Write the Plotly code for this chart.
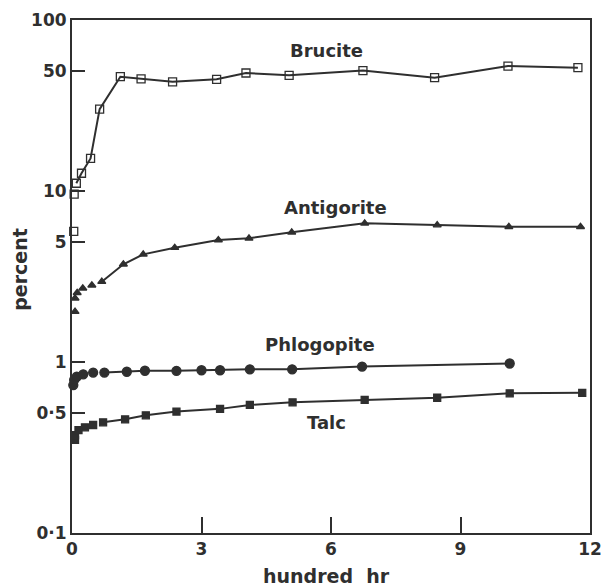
import math
import plotly.graph_objects as go

# ---- data (hundred hr, percent) ----
brucite_x = [0.04, 0.05, 0.10, 0.22, 0.43, 0.64, 1.12, 1.60, 2.33, 3.35, 4.03, 5.03, 6.74, 8.40, 10.10, 11.72]
brucite_y = [5.8, 9.6, 11.1, 12.7, 15.5, 30.1, 46.6, 45.2, 43.5, 45.0, 49.0, 47.5, 50.6, 46.0, 53.8, 52.6]

antigorite_x = [0.07, 0.07, 0.12, 0.25, 0.46, 0.69, 1.19, 1.65, 2.38, 3.39, 4.10, 5.09, 6.78, 8.46, 10.12, 11.78]
antigorite_y = [1.97, 2.36, 2.54, 2.70, 2.81, 2.95, 3.73, 4.26, 4.66, 5.17, 5.29, 5.73, 6.47, 6.32, 6.18, 6.18]

phlogopite_x = [0.03, 0.05, 0.11, 0.26, 0.49, 0.75, 1.27, 1.69, 2.42, 3.00, 3.43, 4.12, 5.10, 6.72, 10.14]
phlogopite_y = [0.733, 0.785, 0.82, 0.847, 0.867, 0.867, 0.877, 0.889, 0.888, 0.895, 0.895, 0.906, 0.906, 0.94, 0.98]

talc_x = [0.07, 0.07, 0.15, 0.30, 0.49, 0.72, 1.23, 1.71, 2.42, 3.43, 4.12, 5.11, 6.78, 8.46, 10.14, 11.82]
talc_y = [0.35, 0.374, 0.40, 0.415, 0.428, 0.444, 0.462, 0.488, 0.513, 0.532, 0.561, 0.581, 0.600, 0.618, 0.656, 0.66]

x_tickvals = [0, 3, 6, 9, 12]
x_ticktext = ["0", "3", "6", "9", "12"]
y_tickvals = [0.1, 0.5, 1, 5, 10, 50, 100]
y_ticktext = ["0·1", "0·5", "1", "5", "10", "50", "100"]

INK = "#2f2f2f"
FONT = "DejaVu Sans"

series = [
    # name, x, y, symbol, size, line starts at index, label pos (x, percent)
    ("Brucite", brucite_x, brucite_y, "square-open", 8, 2, (5.9, 66)),
    ("Antigorite", antigorite_x, antigorite_y, "triangle-up", 7, 5, (6.1, 8.0)),
    ("Phlogopite", phlogopite_x, phlogopite_y, "circle", 9, 5, (5.75, 1.26)),
    ("Talc", talc_x, talc_y, "square", 7, 5, (5.9, 0.44)),
]

fig = go.Figure()
for name, xs, ys, sym, size, start, _ in series:
    fig.add_trace(go.Scatter(
        x=xs[start:], y=ys[start:], mode="lines",
        line=dict(color=INK, width=2), showlegend=False, hoverinfo="skip",
        cliponaxis=False,
    ))
    fig.add_trace(go.Scatter(
        x=xs, y=ys, mode="markers", name=name,
        marker=dict(symbol=sym, size=size, color=INK,
                    line=dict(color=INK, width=1.3)),
        showlegend=False, cliponaxis=False,
    ))

for name, xs, ys, sym, size, start, (lx, ly) in series:
    fig.add_annotation(x=lx, y=math.log10(ly), yref="y", xref="x", text=name, showarrow=False,
                       font=dict(family=FONT, size=18, color=INK, weight="bold"))

# axis titles
fig.add_annotation(x=-0.1004, y=0.515, xref="paper", yref="paper", text="percent",
                   textangle=-90, showarrow=False, xanchor="center", yanchor="middle",
                   font=dict(family=FONT, size=19, color=INK, weight="bold"))
fig.add_annotation(x=0.492, y=-0.084, xref="paper", yref="paper", text="hundred  hr",
                   showarrow=False, xanchor="center", yanchor="middle",
                   font=dict(family=FONT, size=19, color=INK, weight="bold"))

fig.update_layout(
    width=603, height=587,
    margin=dict(l=72, r=13, t=20, b=54, autoexpand=False),
    paper_bgcolor="white", plot_bgcolor="white",
    font=dict(family=FONT, color=INK),
)
fig.update_xaxes(
    range=[0, 12], tickvals=x_tickvals, ticktext=x_ticktext,
    ticks="inside", ticklen=16, tickwidth=2, tickcolor=INK,
    showline=True, linecolor=INK, linewidth=2, mirror=True,
    showgrid=False, zeroline=False, automargin=False,
    tickfont=dict(family=FONT, size=17, color=INK, weight="bold"),
)
fig.update_yaxes(
    type="log", range=[-1, 2], tickvals=y_tickvals, ticktext=y_ticktext,
    ticks="inside", ticklen=13, tickwidth=2, tickcolor=INK,
    showline=True, linecolor=INK, linewidth=2, mirror=True,
    showgrid=False, zeroline=False, automargin=False,
    tickfont=dict(family=FONT, size=17, color=INK, weight="bold"),
)

fig.write_html(
    "out.html",
    config={"displayModeBar": False},
    post_script="document.body.style.margin='0';document.body.style.overflow='hidden';",
)
